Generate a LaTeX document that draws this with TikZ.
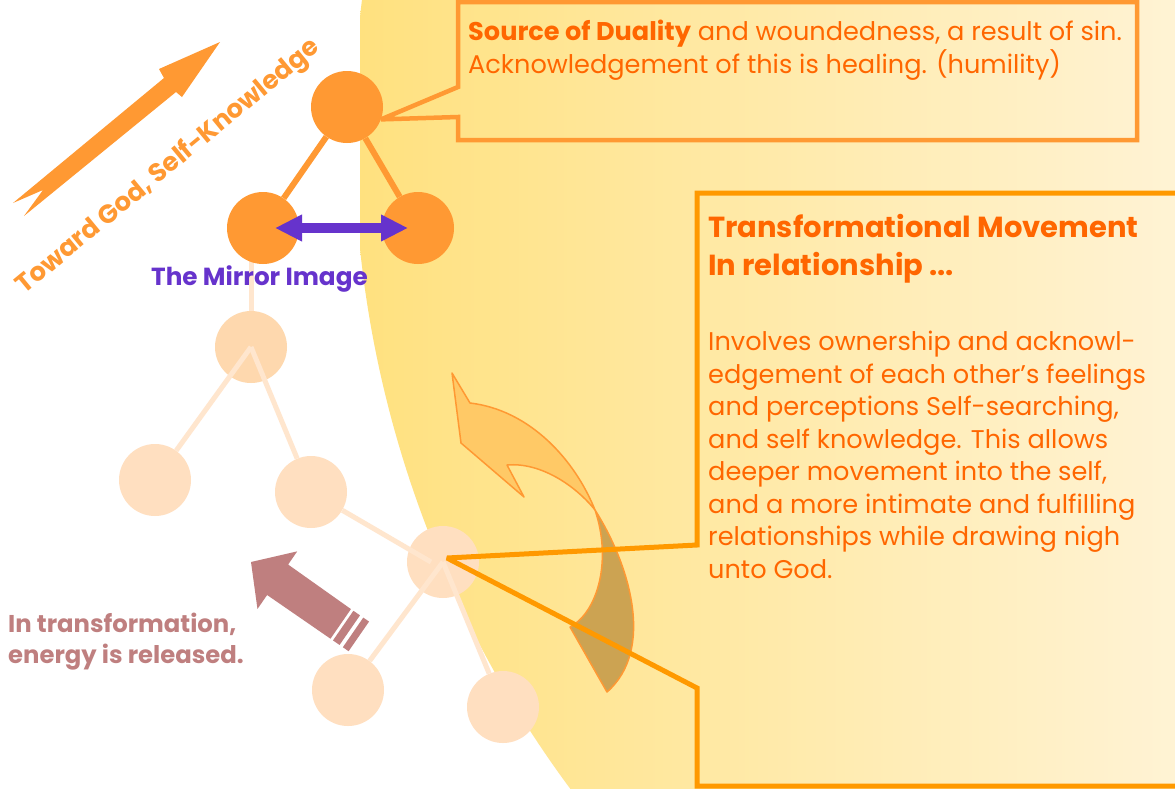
\documentclass[tikz,border=0pt]{standalone}
\usepackage{fontspec}
\setmainfont{Poppins}
\usetikzlibrary{arrows.meta}
\definecolor{orC}{HTML}{FF9933}
\definecolor{boxC}{HTML}{FF9900}
\definecolor{txtC}{HTML}{FF6600}
\definecolor{purC}{HTML}{6633CC}
\definecolor{fadeA}{HTML}{FED8AE}
\definecolor{fadeC}{HTML}{FFDFC0}
\definecolor{fadeL}{HTML}{FFE6CE}
\definecolor{ylL}{HTML}{FFE17F}
\definecolor{ylR}{HTML}{FFF3D4}
\definecolor{roseC}{HTML}{BF7F7F}
\definecolor{lightArrow}{HTML}{FFC966}
\definecolor{darkArrow}{HTML}{CCA352}
\begin{document}
\begin{tikzpicture}[x=1pt,y=-1pt,
  onode/.style={circle,fill=orC,minimum size=72pt,inner sep=0pt},
  fnode/.style={circle,fill=fadeC,minimum size=72pt,inner sep=0pt},
  oline/.style={draw=orC,line width=6pt},
  fline/.style={draw=fadeL,line width=5pt},
  mirror/.style={draw=purC,line width=10pt,{Triangle[length=27pt 0 1,width=25pt 0 1]}-{Triangle[length=27pt 0 1,width=25pt 0 1]}},
  callout/.style={draw=#1,line width=4.5pt,line join=miter,miter limit=3},
  txt/.style={anchor=base west,inner sep=0pt,text=txtC},
  bodyfont/.style={font=\fontsize{25.6}{30}\selectfont},
  titlefont/.style={font=\bfseries\fontsize{29}{34}\selectfont},
]
\useasboundingbox (0,0) rectangle (1175,788);
\begin{scope}
\clip (0,0) rectangle (1175,788);
\fill[white] (0,0) rectangle (1175,788);
% yellow disc
\begin{scope}
  \clip (1456,133) circle [radius=1102pt];
  \shade[left color=ylL,right color=ylR] (360,0) rectangle (1175,788);
\end{scope}

% faded tree
\node[fnode,fill=fadeA] (A) at (251,347) {};
\node[fnode] (B) at (155,480) {};
\node[fnode] (C) at (311,492) {};
\node[fnode] (D) at (443,562) {};
\node[fnode] (E) at (348,690) {};
\node[fnode] (F) at (503,707) {};
\coordinate (Atop) at (251,228);
\draw[fline] (Atop) -- (A);
\draw[fline] (A.center) -- (B);
\draw[fline] (A.center) -- (C);
\draw[fline] (C) -- ([xshift=-12pt]D.center);
\draw[fline] (D.center) -- (E);
\draw[fline] (D.center) -- (F);

% orange triangle
\node[onode] (T) at (347,107) {};
\node[onode] (L) at (263,228) {};
\node[onode] (R) at (418,228) {};
\draw[oline] (T) -- (L);
\draw[oline] (T) -- (R);
\draw[mirror] ([xshift=12pt]L.center) -- ([xshift=-10pt]R.center);
\node[anchor=base west,inner sep=0pt,text=purC,font=\bfseries\fontsize{24.7}{29}\selectfont] (mirrortxt) at (151,285) {The Mirror Image};

% toward arrow
\fill[orC] (220,42) -- (182,97) -- (176,92) -- (24,216) -- (43,190) -- (13,203) -- (164,78) -- (159,69) -- cycle;
\node[anchor=base,inner sep=0pt,text=orC,rotate=39.5,font=\bfseries\fontsize{25.8}{30}\selectfont] (toward) at (173,172) {Toward God, Self-Knowledge};

% curved arrow
\filldraw[fill=lightArrow,draw=orC,line width=1.5pt,line join=round]
  (452,373) -- (470,403) .. controls (530,410) and (575,460) .. (595,510)
  .. controls (575,485) and (540,462) .. (507,465) -- (524,497) -- (461,443) -- cycle;
\filldraw[fill=darkArrow,draw=orC,line width=1.5pt,line join=round]
  (595,510) .. controls (630,565) and (655,650) .. (607,692) -- (570,627)
  .. controls (598,612) and (612,560) .. (595,510) -- cycle;

% top callout
\coordinate (Ttip) at (T.-20);
\draw[callout=orC] (Ttip) -- (458,87) -- (458,2) -- (1137,2) -- (1137,140) -- (458,140) -- (458,117) -- cycle;
\node[txt,bodyfont] (s1) at (468,40) {\textbf{Source of Duality} and woundedness, a result of sin.};
\node[txt,bodyfont] (s2) at (468,73) {Acknowledgement of this is healing. (humility)};

% transformational callout
\coordinate (Dtip) at ([xshift=4pt,yshift=4pt]D.center);
\draw[callout=boxC,line width=5pt] (Dtip) -- (697,545) -- (697,193) -- (1190,193) -- (1190,786) -- (697,786) -- (697,688) -- cycle;
\node[txt,titlefont] (t1) at (708,237) {Transformational Movement};
\node[txt,titlefont] (t2) at (708,275) {In relationship ...};
\node[txt,bodyfont] (b1) at (708,350) {Involves ownership and acknowl-};
\node[txt,bodyfont] (b2) at (708,383) {edgement of each other’s feelings};
\node[txt,bodyfont] (b3) at (708,415) {and perceptions Self-searching,};
\node[txt,bodyfont] (b4) at (708,448) {and self knowledge. This allows};
\node[txt,bodyfont] (b5) at (708,480) {deeper movement into the self,};
\node[txt,bodyfont] (b6) at (708,513) {and a more intimate and fulfilling};
\node[txt,bodyfont] (b7) at (708,545) {relationships while drawing nigh};
\node[txt,bodyfont] (b8) at (708,578) {unto God.};

% energy arrow
\begin{scope}[shift={(251,562)},rotate=-34.6]
  \fill[roseC] (0,0) -- (32,-35) -- (32,-19) -- (109,-18) -- (109,18) -- (32,18) -- (32,35) -- cycle;
  \fill[roseC] (112,-18) rectangle (120,18);
  \fill[roseC] (124,-18) rectangle (131,18);
\end{scope}
\node[anchor=base west,inner sep=0pt,text=roseC,font=\bfseries\fontsize{24.3}{29}\selectfont] (e1) at (8,632) {In transformation,};
\node[anchor=base west,inner sep=0pt,text=roseC,font=\bfseries\fontsize{24.3}{29}\selectfont] (e2) at (8,663) {energy is released.};
\end{scope}
\end{tikzpicture}
\end{document}
